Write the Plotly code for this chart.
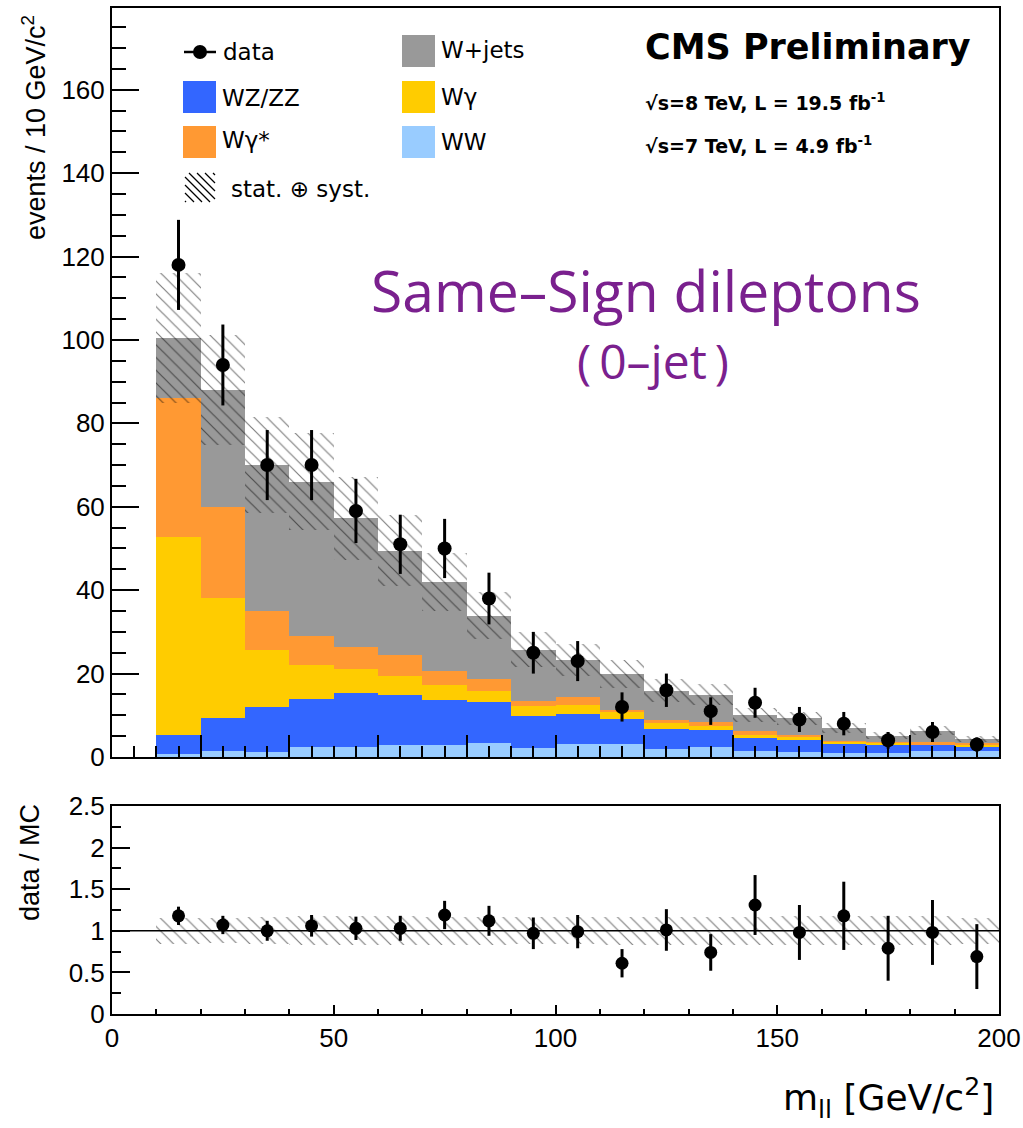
import numpy as np
import plotly.graph_objects as go

# ---------------- data ----------------
bin_centers = [15, 25, 35, 45, 55, 65, 75, 85, 95, 105, 115, 125, 135, 145, 155, 165, 175, 185, 195]
bin_width = 10

ww        = [0.7, 1.4, 1.3, 2.3, 2.3, 2.9, 2.9, 3.3, 2.1, 3.1, 3.1, 1.8, 2.3, 1.5, 1.2, 1.0, 0.9, 1.4, 1.4]
wz_zz     = [4.6, 7.9, 10.8, 11.6, 13.0, 12.0, 10.8, 10.0, 7.8, 7.2, 6.0, 4.9, 4.2, 3.0, 2.9, 2.3, 2.2, 1.5, 1.1]
w_gamma   = [47.5, 28.8, 13.6, 8.2, 5.8, 4.6, 3.6, 2.6, 2.4, 2.2, 1.8, 1.5, 1.0, 0.8, 0.9, 0.4, 0.4, 0.2, 0.5]
w_gstar   = [33.2, 21.8, 9.2, 7.0, 5.3, 5.0, 3.4, 2.8, 1.2, 1.8, 0.4, 0.7, 1.0, 1.0, 0.3, 0.2, 0.2, 0.4, 0.3]
w_jets    = [14.5, 28.1, 35.2, 36.9, 30.8, 25.0, 21.3, 15.2, 12.2, 9.0, 8.6, 7.0, 6.4, 3.8, 4.0, 3.0, 1.4, 2.8, 1.1]

data      = [118, 94, 70, 70, 59, 51, 50, 38, 25, 23, 12, 16, 11, 13, 9, 8, 4, 6, 3]
data_err  = [10.8, 9.7, 8.4, 8.4, 7.7, 7.1, 7.1, 6.2, 5.0, 4.8, 3.5, 4.0, 3.3, 3.6, 3.0, 2.8, 2.0, 2.4, 1.7]
syst_unc  = [15.5, 13.3, 11.5, 11.6, 10.0, 8.6, 7.0, 5.6, 4.2, 3.8, 3.3, 2.7, 2.5, 1.7, 1.6, 1.2, 0.9, 1.1, 0.7]

ratio     = [1.18, 1.07, 1.00, 1.06, 1.03, 1.03, 1.19, 1.12, 0.97, 0.99, 0.61, 1.01, 0.74, 1.31, 0.98, 1.18, 0.79, 0.98, 0.69]
ratio_err = [0.11, 0.11, 0.12, 0.13, 0.14, 0.15, 0.17, 0.18, 0.19, 0.20, 0.17, 0.25, 0.22, 0.36, 0.33, 0.41, 0.39, 0.39, 0.39]

y_ticks_main = [0, 20, 40, 60, 80, 100, 120, 140, 160]
y_ticks_ratio = [0, 0.5, 1, 1.5, 2, 2.5]
y_ticktext_ratio = ["0", "0.5", "1", "1.5", "2", "2.5"]
x_ticks = [0, 50, 100, 150, 200]

components = [
    ("WW", ww, "#99ccff"),
    ("WZ/ZZ", wz_zz, "#3366ff"),
    ("Wγ", w_gamma, "#ffcc00"),
    ("Wγ*", w_gstar, "#ff9933"),
    ("W+jets", w_jets, "#999999"),
]

# ---------------- figure ----------------
fig = go.Figure()

base = np.zeros(len(bin_centers))
for name, vals, col in components:
    vals = np.array(vals)
    fig.add_trace(go.Bar(
        x=bin_centers, y=vals, base=base, width=bin_width,
        marker=dict(color=col, line=dict(width=0)),
        name=name, showlegend=False, xaxis="x", yaxis="y",
    ))
    base = base + vals
total = base

hatch = dict(shape="\\", fgcolor="black", bgcolor="rgba(0,0,0,0)",
             size=9, solidity=0.13, fillmode="overlay")

unc = np.array(syst_unc)
fig.add_trace(go.Bar(
    x=bin_centers, y=2 * unc, base=total - unc, width=bin_width,
    marker=dict(color="rgba(0,0,0,0)", line=dict(width=0), pattern=hatch),
    showlegend=False, xaxis="x", yaxis="y",
))

rel = unc / total
fig.add_trace(go.Bar(
    x=bin_centers, y=2 * rel, base=1 - rel, width=bin_width,
    marker=dict(color="rgba(0,0,0,0)", line=dict(width=0), pattern=hatch),
    showlegend=False, xaxis="x2", yaxis="y2",
))

fig.add_trace(go.Scatter(
    x=bin_centers, y=data, mode="markers",
    marker=dict(color="black", size=14),
    error_y=dict(type="data", array=data_err, color="black", thickness=3, width=0),
    showlegend=False, xaxis="x", yaxis="y",
))
fig.add_trace(go.Scatter(
    x=bin_centers, y=ratio, mode="markers",
    marker=dict(color="black", size=13),
    error_y=dict(type="data", array=ratio_err, color="black", thickness=3, width=0),
    showlegend=False, xaxis="x2", yaxis="y2",
))

# ---------------- layout ----------------
L, R, T, B = 112, 24, 8, 114
W, H = 1023, 1128
PW, PH = W - L - R, H - T - B


def px(xp):
    return (xp - L) / PW


def py(yp):
    return (H - B - yp) / PH


main_bottom = py(757)
ratio_top = py(806)

tickfont = dict(family="Liberation Sans, Arial, sans-serif", size=26, color="black")

common = dict(showline=True, linecolor="black", linewidth=2, mirror=True, showgrid=False,
              zeroline=False, automargin=False, tickcolor="black", tickwidth=2)

fig.update_layout(
    width=W, height=H,
    margin=dict(l=L, r=R, t=T, b=B, autoexpand=False),
    paper_bgcolor="white", plot_bgcolor="white",
    barmode="overlay", bargap=0,
    showlegend=False,
    xaxis=dict(domain=[0, 1], range=[0, 200], anchor="y",
               showticklabels=False, ticks="inside", dtick=20, tick0=0, ticklen=22,
               minor=dict(dtick=5, ticks="inside", ticklen=11, tickwidth=2, tickcolor="black"),
               **common),
    yaxis=dict(domain=[main_bottom, 1], range=[0, 179.6], anchor="x",
               tickmode="array", tickvals=y_ticks_main, ticks="inside", ticklen=27,
               tickfont=tickfont,
               minor=dict(dtick=5, ticks="inside", ticklen=14, tickwidth=2, tickcolor="black"),
               **common),
    xaxis2=dict(domain=[0, 1], range=[0, 200], anchor="y2",
                tickmode="array", tickvals=x_ticks, ticks="inside", ticklen=9,
                tickfont=tickfont,
                minor=dict(dtick=10, ticks="inside", ticklen=5, tickwidth=2, tickcolor="black"),
                **common),
    yaxis2=dict(domain=[0, ratio_top], range=[0, 2.5], anchor="x2",
                tickmode="array", tickvals=y_ticks_ratio, ticktext=y_ticktext_ratio,
                ticks="inside", ticklen=18, tickfont=tickfont,
                minor=dict(dtick=0.25, ticks="inside", ticklen=9, tickwidth=2, tickcolor="black"),
                **common),
)

shapes = []
# line at ratio = 1
shapes.append(dict(type="line", xref="x2", yref="y2", x0=0, x1=200, y0=1, y1=1,
                   line=dict(color="black", width=1.5)))

# legend squares
legend_boxes = [
    ("WZ/ZZ", "#3366ff", 183, 81),
    ("Wγ*", "#ff9933", 183, 126),
    ("W+jets", "#999999", 402, 35),
    ("Wγ", "#ffcc00", 402, 81),
    ("WW", "#99ccff", 402, 126),
]
for _, col, x0, y0 in legend_boxes:
    shapes.append(dict(type="rect", xref="paper", yref="paper",
                       x0=px(x0), x1=px(x0 + 33), y0=py(y0 + 32), y1=py(y0),
                       fillcolor=col, line=dict(width=0), layer="above"))

# data legend symbol
shapes.append(dict(type="line", xref="paper", yref="paper", x0=px(184), x1=px(216),
                   y0=py(52), y1=py(52), line=dict(color="black", width=2.5)))
shapes.append(dict(type="circle", xref="paper", yref="paper", x0=px(193), x1=px(207),
                   y0=py(59), y1=py(45), fillcolor="black", line=dict(width=0)))

# hatch legend symbol ("\" lines clipped to a box)
hx0, hx1, hy0, hy1 = 185, 215, 173, 202
for c in range(-28, 30, 8):
    ya = hy0
    xa = hx0 + c
    if xa < hx0:
        ya = hy0 + (hx0 - xa)
        xa = hx0
    yb = hy1
    xb = hx0 + c + (hy1 - hy0)
    if xb > hx1:
        yb = hy1 - (xb - hx1)
        xb = hx1
    if ya < yb and xa < xb:
        shapes.append(dict(type="line", xref="paper", yref="paper",
                           x0=px(xa), x1=px(xb), y0=py(ya), y1=py(yb),
                           line=dict(color="black", width=1.2)))

fig.update_layout(shapes=shapes)

ann = []
legfont = dict(family="DejaVu Sans, sans-serif", size=23, color="black")
ann.append(dict(text="data", x=px(221), y=py(52)))
ann.append(dict(text="WZ/ZZ", x=px(220), y=py(98)))
ann.append(dict(text="Wγ*", x=px(220), y=py(140)))
ann.append(dict(text="W+jets", x=px(439), y=py(50)))
ann.append(dict(text="Wγ", x=px(439), y=py(97)))
ann.append(dict(text="WW", x=px(439), y=py(142)))
ann.append(dict(text="stat. ⊕ syst.", x=px(229), y=py(189)))
for a in ann:
    a.update(xref="paper", yref="paper", xanchor="left", yanchor="middle",
             showarrow=False, font=legfont)

boldfont = "DejaVu Sans, sans-serif"
ann.append(dict(text="<b>CMS Preliminary</b>", x=px(643), y=py(47), xref="paper", yref="paper",
                xanchor="left", yanchor="middle", showarrow=False,
                font=dict(family=boldfont, size=35, color="black")))
ann.append(dict(text="<b>√s=8 TeV, L = 19.5 fb<sup>-1</sup></b>", x=px(643), y=py(102),
                xref="paper", yref="paper", xanchor="left", yanchor="middle", showarrow=False,
                font=dict(family=boldfont, size=19, color="black")))
ann.append(dict(text="<b>√s=7 TeV, L = 4.9 fb<sup>-1</sup></b>", x=px(643), y=py(145),
                xref="paper", yref="paper", xanchor="left", yanchor="middle", showarrow=False,
                font=dict(family=boldfont, size=19, color="black")))

purple = "rgb(122,32,142)"
ann.append(dict(text="Same–Sign dileptons", x=px(646), y=py(290), xref="paper", yref="paper",
                xanchor="center", yanchor="middle", showarrow=False,
                font=dict(family="Open Sans, sans-serif", size=57, color=purple)))
ann.append(dict(text="(\u20090–jet\u2009)", x=px(653), y=py(360), xref="paper", yref="paper",
                xanchor="center", yanchor="middle", showarrow=False,
                font=dict(family="Open Sans, sans-serif", size=48, color=purple)))

axfont = dict(family="Liberation Sans, Arial, sans-serif", size=27, color="black")
ann.append(dict(text="events / 10 GeV/c<sup>2</sup>", x=px(34), y=py(128), xref="paper", yref="paper",
                xanchor="center", yanchor="middle", textangle=-90, showarrow=False, font=axfont))
ann.append(dict(text="data / MC", x=px(30), y=py(863), xref="paper", yref="paper",
                xanchor="center", yanchor="middle", textangle=-90, showarrow=False, font=axfont))
ann.append(dict(text="m<sub>ll</sub> [GeV/c<sup>2</sup>]", x=px(996), y=py(1098), xref="paper",
                yref="paper", xanchor="right", yanchor="middle", showarrow=False,
                font=dict(family="DejaVu Sans, sans-serif", size=36, color="black")))

fig.update_layout(annotations=ann)

fig.write_html("out.html")
